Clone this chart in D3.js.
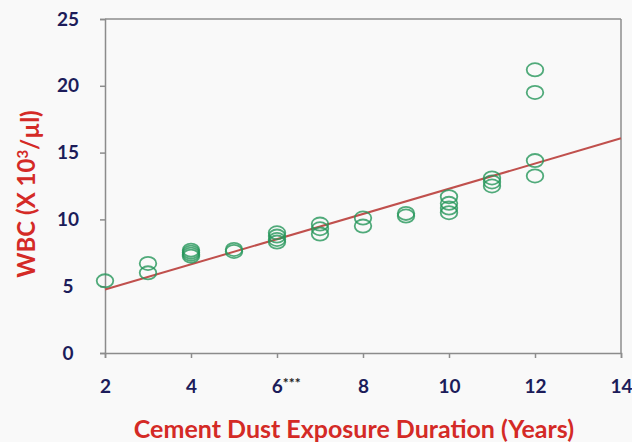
<!DOCTYPE html>
<html>
<head>
<meta charset="utf-8">
<script src="https://cdn.jsdelivr.net/npm/d3@7"></script>
<style>
  body { margin: 0; background: #f9f9f9; }
  svg { display: block; }
</style>
</head>
<body>
<div id="chart"></div>
<script>
// exposure duration (years) and WBC count (x10^3/ul) per subject
var years = [2, 3, 3, 4, 4, 4, 4, 5, 5, 6, 6, 6, 6, 7, 7, 7, 8, 8, 9, 9,
             10, 10, 10, 10, 11, 11, 11, 12, 12, 12, 12];
var wbc = [5.4, 6.7, 6.0, 7.7, 7.55, 7.4, 7.25, 7.75, 7.6, 9.0, 8.75, 8.5, 8.3,
           9.65, 9.3, 8.9, 10.1, 9.5, 10.45, 10.25, 11.7, 11.2, 10.85, 10.5,
           13.1, 12.8, 12.5, 21.2, 19.5, 14.4, 13.25];

// linear trend line end points
var trendX = [2, 14];
var trendY = [4.75, 16.07];

var xTicks = [2, 4, 6, 8, 10, 12, 14];
var yTicks = [0, 5, 10, 15, 20, 25];

var W = 632, H = 442;
var margin = {top: 19, right: 11, bottom: 89, left: 105};
var width = W - margin.left - margin.right;
var height = H - margin.top - margin.bottom;

var svg = d3.select("#chart")
    .append("svg")
    .attr("width", W)
    .attr("height", H);

var g = svg.append("g")
    .attr("transform", "translate(" + margin.left + "," + margin.top + ")");

var x = d3.scaleLinear().domain([2, 14]).range([0, width]);
var y = d3.scaleLinear().domain([0, 25]).range([height, 0]);

var axisColor = "#8c8c8c";
var tickColor = "#1c1c5a";

// frame: top and right edges
g.append("line")
    .attr("x1", 0).attr("x2", width)
    .attr("y1", 0).attr("y2", 0)
    .attr("stroke", axisColor).attr("stroke-width", 1.5);
g.append("line")
    .attr("x1", width).attr("x2", width)
    .attr("y1", 0).attr("y2", height)
    .attr("stroke", axisColor).attr("stroke-width", 1.5);

// y axis
var yAxis = g.append("g")
    .call(d3.axisLeft(y).tickValues(yTicks).tickSize(5).tickPadding(24));
yAxis.selectAll("path, line").attr("stroke", axisColor).attr("stroke-width", 1.5);
yAxis.selectAll("text")
    .attr("fill", tickColor)
    .attr("text-anchor", "middle")
    .attr("x", -37)
    .style("font", "bold 19px Lato, 'Open Sans', sans-serif");

// x axis
var xAxis = g.append("g")
    .attr("transform", "translate(0," + height + ")")
    .call(d3.axisBottom(x).tickValues(xTicks).tickSize(5).tickPadding(22));
xAxis.selectAll("path, line").attr("stroke", axisColor).attr("stroke-width", 1.5);
xAxis.selectAll("text")
    .attr("fill", tickColor)
    .style("font", "bold 19px Lato, 'Open Sans', sans-serif");

// significance marker on the 6-year label
xAxis.selectAll(".tick text")
    .filter(function(d) { return d === 6; })
    .attr("text-anchor", "start")
    .attr("dx", "-0.3em")
    .append("tspan")
    .attr("dy", "-0.4em")
    .attr("fill", "#222")
    .style("font", "bold 14px Lato, sans-serif")
    .text("***");

// trend line
g.append("line")
    .attr("x1", x(trendX[0])).attr("y1", y(trendY[0]))
    .attr("x2", x(trendX[1])).attr("y2", y(trendY[1]))
    .attr("stroke", "#c0504d")
    .attr("stroke-width", 2);

// points as open ellipses
g.selectAll(".pt")
    .data(years)
    .enter()
    .append("ellipse")
    .attr("class", "pt")
    .attr("cx", function(d) { return x(d); })
    .attr("cy", function(d, i) { return y(wbc[i]); })
    .attr("rx", 8.3)
    .attr("ry", 6.6)
    .attr("fill", "none")
    .attr("stroke", "#26965a")
    .attr("stroke-opacity", 0.8)
    .attr("stroke-width", 1.8);

// axis titles
svg.append("text")
    .attr("x", 354)
    .attr("y", 438)
    .attr("text-anchor", "middle")
    .attr("fill", "#d42a26")
    .style("font", "bold 25px Lato, 'Open Sans', sans-serif")
    .text("Cement Dust Exposure Duration (Years)");

var yt = svg.append("text")
    .attr("transform", "translate(35,194) rotate(-90)")
    .attr("text-anchor", "middle")
    .attr("fill", "#d42a26")
    .style("font", "bold 24px Lato, 'Open Sans', sans-serif");
yt.append("tspan").text("WBC (X 10");
yt.append("tspan").attr("dy", "-0.45em").style("font-size", "15px").text("3");
yt.append("tspan").attr("dy", "0.45em").text("/µl)");
</script>
</body>
</html>
